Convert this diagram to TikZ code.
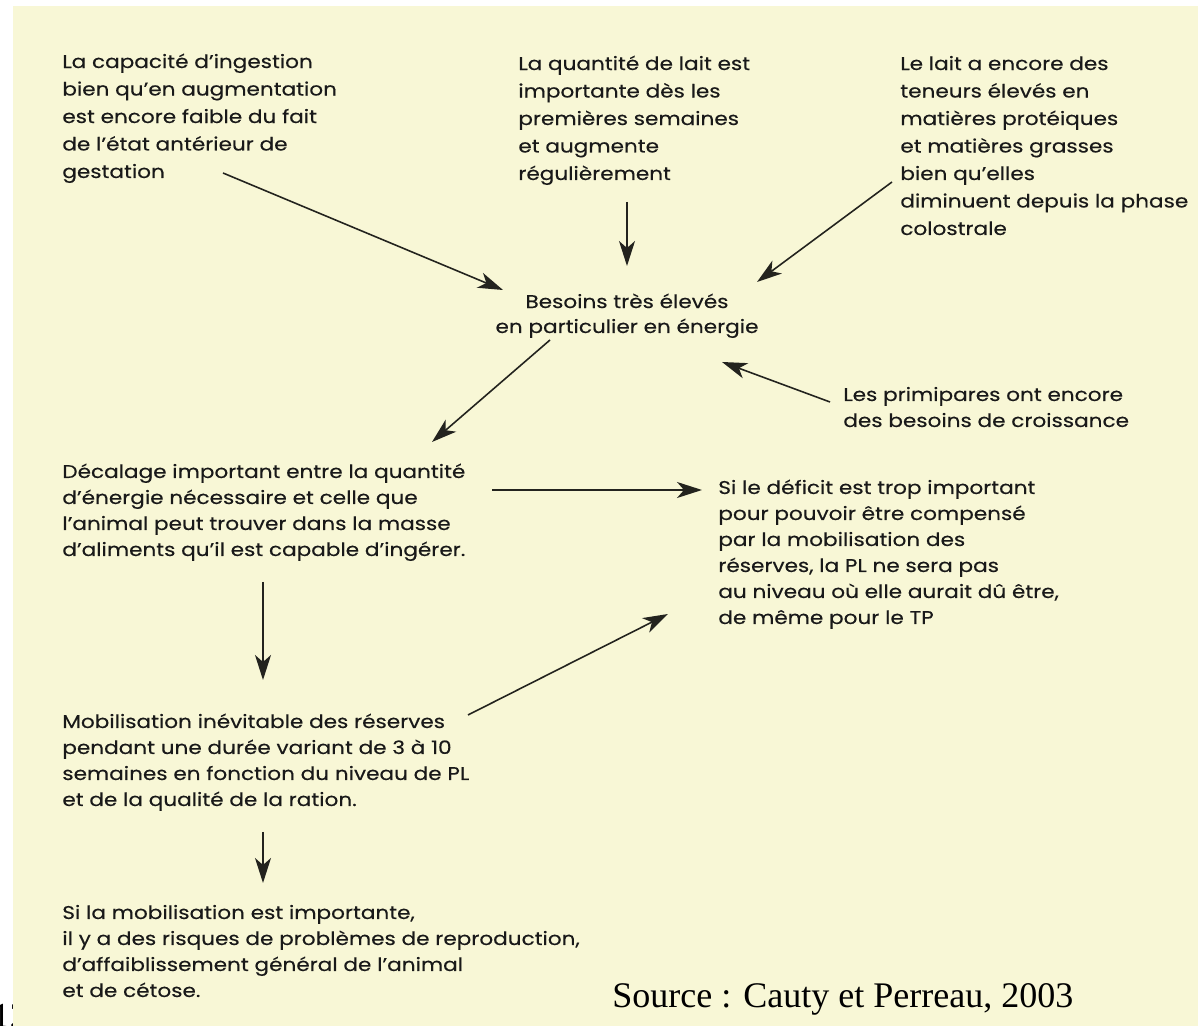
\documentclass[tikz,border=0pt]{standalone}
\usepackage{fontspec}
\setmainfont{Poppins}[FakeStretch=1.17, FakeBold=0.3]
\newfontfamily\sourcefont{Liberation Serif}
\usetikzlibrary{arrows.meta, positioning, calc}

\definecolor{papier}{RGB}{248,247,214}
\definecolor{trait}{RGB}{35,35,30}

\tikzset{
  texte/.style={anchor=base west, align=left, inner sep=0pt, text=black!90,
    font=\fontsize{10.5}{14.8}\selectfont},
  texte haut/.style={texte, font=\fontsize{10.5}{15.65}\selectfont},
  fleche/.style={-{Stealth[length=5mm, width=3.2mm, inset=1.4mm]}, line width=0.9pt, trait},
}

\begin{document}
\begin{tikzpicture}[x=0.02cm, y=-0.02cm]
\useasboundingbox (0,0) rectangle (1198,1026);

% numéro de page coupé + fond
\node[anchor=base west, inner sep=0pt, font=\sourcefont\fontsize{20}{20}\selectfont] (page) at (-8,1028) {12};
\fill[papier] (13,6) rectangle (1198,1026);

% textes du haut (ancre = dernière ligne)
\node[texte haut] (ingestion) at (62,178) {La capacité d’ingestion\\bien qu’en augmentation\\est encore faible du fait\\de l’état antérieur de\\gestation};
\node[texte haut] (lait) at (518,180) {La quantité de lait est\\importante dès les\\premières semaines\\et augmente\\régulièrement};
\node[texte haut] (teneurs) at (900,235) {Le lait a encore des\\teneurs élevés en\\matières protéiques\\et matières grasses\\bien qu’elles\\diminuent depuis la phase\\colostrale};

% besoins
\node[texte, anchor=base, align=center, font=\fontsize{10.5}{14.2}\selectfont] (besoins) at (627,333) {Besoins très élevés\\en particulier en énergie};
\node[texte] (primipares) at (843,427) {Les primipares ont encore\\des besoins de croissance};

% conséquences
\node[texte] (decalage) at (62,556) {Décalage important entre la quantité\\d’énergie nécessaire et celle que\\l’animal peut trouver dans la masse\\d’aliments qu’il est capable d’ingérer.};
\node[texte] (deficit) at (718,624) {Si le déficit est trop important\\pour pouvoir être compensé\\par la mobilisation des\\réserves, la PL ne sera pas\\au niveau où elle aurait dû être,\\de même pour le TP};
\node[texte] (mobilisation) at (62,806) {Mobilisation inévitable des réserves\\pendant une durée variant de 3 à 10\\semaines en fonction du niveau de PL\\et de la qualité de la ration.};
\node[texte] (risques) at (62,997) {Si la mobilisation est importante,\\il y a des risques de problèmes de reproduction,\\d’affaiblissement général de l’animal\\et de cétose.};

% source
\node[anchor=base west, inner sep=0pt, font=\sourcefont\fontsize{20.5}{20.5}\selectfont] (source) at (612,1008) {Source : Cauty et Perreau, 2003};

% flèches vers les besoins
\draw[fleche] ($(ingestion.base west)+(161,-5)$) -- ($(besoins.base)+(-124,-43)$);
\draw[fleche] ($(lait.base west)+(109,22)$) -- ($(besoins.base)+(0,-67)$);
\draw[fleche] ($(teneurs.base west)+(-8,-53)$) -- ($(besoins.base)+(130,-51)$);
\draw[fleche] ($(primipares.base west)+(-13,-25)$) -- ($(besoins.base)+(95,29)$);

% enchaînement
\draw[fleche] ($(besoins.base)+(-77,7)$) -- ($(decalage.base west)+(370,-114)$);
\draw[fleche] ($(decalage.base west)+(430,-66)$) -- ($(deficit.base west)+(-16,-134)$);
\draw[fleche] ($(decalage.base west)+(201,26)$) -- ($(mobilisation.base west)+(201,-126)$);
\draw[fleche] ($(mobilisation.base west)+(406,-91)$) -- ($(deficit.base west)+(-50,-10)$);
\draw[fleche] ($(mobilisation.base west)+(201,26)$) -- ($(risques.base west)+(201,-114)$);
\end{tikzpicture}
\end{document}
